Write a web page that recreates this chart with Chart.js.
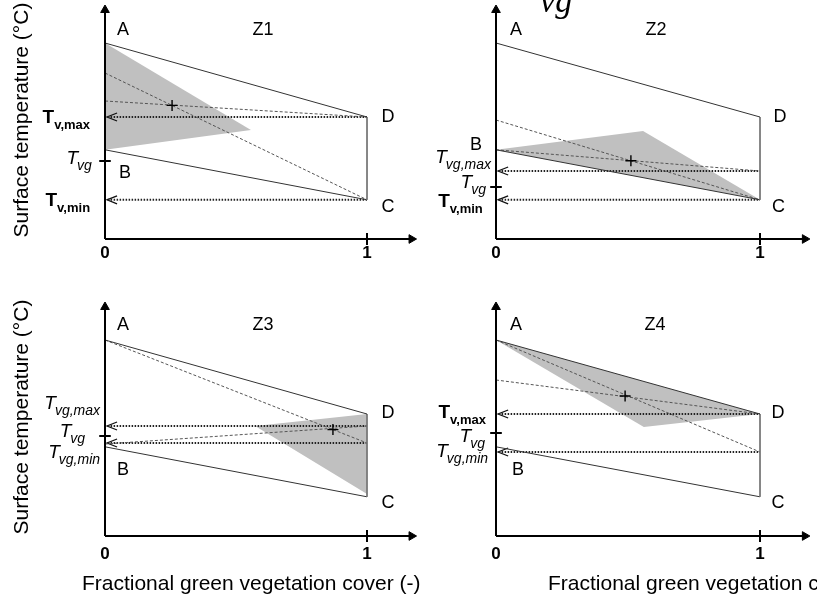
<!DOCTYPE html>
<html>
<head>
<meta charset="utf-8">
<script src="https://cdn.jsdelivr.net/npm/chart.js@4/dist/chart.umd.min.js"></script>
<style>
  html, body { margin: 0; padding: 0; background: #fff; }
  #chart { display: block; }
</style>
</head>
<body>
<canvas id="chart" width="817" height="596"></canvas>
<script>
// ---- data (temperature units, x = fractional cover 0..1) ----
const panelTitles = ['Z1', 'Z2', 'Z3', 'Z4'];
const xTickLabels = ['0', '1'];
const yTitle = 'Surface temperature (°C)';
const xTitle = 'Fractional green vegetation cover (-)';

// trapezoid corners A, D, C, B (same in every panel)
const trapezoidX = [0, 1, 1, 0];
const trapezoidY = [49, 30.5, 9.8, 22.3];

const shadeZ1 = [[0, 49], [0.557, 27.25], [0, 22.3]];
const shadeZ2 = [[0, 22.3], [0.557, 27], [1, 9.8]];
const shadeZ3 = [[0.573, 27.5], [1, 30.5], [1, 10.5]];
const shadeZ4 = [[0, 49], [1, 30.5], [0.56, 27.25]];

const dashedZ1 = [[[0, 41.5], [1, 9.8]], [[0, 34.5], [1, 30.5]]];
const dashedZ2 = [[[0, 29.75], [1, 9.8]], [[0, 22.3], [1, 17]]];
const dashedZ3 = [[[0, 49], [1, 23.25]], [[0, 23], [1, 27.5]]];
const dashedZ4 = [[[0, 49], [1, 21]], [[0, 39], [1, 30.5]]];

const crossPoints = [[0.256, 33.4], [0.511, 19.55], [0.87, 26.6], [0.489, 35]];
const dottedLevels = [[30.5, 9.8], [17, 9.8], [27.5, 23.25], [30.5, 21]];
const tvgTicks = [19.5, 13, 25, 25.75];

// left-hand temperature labels: [main, subscript, style, y]
const tempLabelsZ1 = [['T', 'v,max', 'b', 30.75], ['T', 'vg', 'i', 20.5], ['T', 'v,min', 'b', 10]];
const tempLabelsZ2 = [['T', 'vg,max', 'i', 20.75], ['T', 'vg', 'i', 14.5], ['T', 'v,min', 'b', 9.75]];
const tempLabelsZ3 = [['T', 'vg,max', 'i', 33.5], ['T', 'vg', 'i', 26.5], ['T', 'vg,min', 'i', 21.25]];
const tempLabelsZ4 = [['T', 'v,max', 'b', 31.25], ['T', 'vg', 'i', 25.25], ['T', 'vg,min', 'i', 21.5]];

// ---- layout ----
const AX = [
  { x: 'xL', y: 'yT' }, { x: 'xR', y: 'yT' },
  { x: 'xL', y: 'yB' }, { x: 'xR', y: 'yB' }
];
const W = 817, H = 596;
const colL = { x0: 105, unit: 262 }, colR = { x0: 496, unit: 264 };
const rowT = { y0: 239, unit: 4 }, rowB = { y0: 536, unit: 4 };

const FONT = 'Arial, "Liberation Sans", sans-serif';
const shades = [shadeZ1, shadeZ2, shadeZ3, shadeZ4];
const dashes = [dashedZ1, dashedZ2, dashedZ3, dashedZ4];
const tempLabels = [tempLabelsZ1, tempLabelsZ2, tempLabelsZ3, tempLabelsZ4];
const tempLabelRight = [
  [-0.057, -0.05, -0.057], [-0.019, -0.038, -0.05],
  [-0.019, -0.076, -0.019], [-0.038, -0.042, -0.03]
];
const letterPos = [
  { A: [0.069, 52.25], B: [0.076, 16.5], C: [1.08, 8], D: [1.08, 30.5], Z: [0.603, 52.25] },
  { A: [0.076, 52.25], B: [-0.053, 23.5], C: [1.07, 8], D: [1.076, 30.5], Z: [0.606, 52.25] },
  { A: [0.069, 52.75], B: [0.069, 16.5], C: [1.08, 8.25], D: [1.08, 30.75], Z: [0.603, 52.75] },
  { A: [0.076, 52.75], B: [0.083, 16.5], C: [1.068, 8.25], D: [1.068, 30.75], Z: [0.602, 52.75] }
];
const tickLabelY = [-3.6, -3.6, -4.5, -4.5];

const pts = arr => arr.map(([x, y]) => ({ x, y }));

function line(p, arr, opts) {
  return Object.assign({
    data: pts(arr), xAxisID: AX[p].x, yAxisID: AX[p].y,
    showLine: true, pointRadius: 0, fill: false,
    borderColor: '#444', borderWidth: 1, order: 5
  }, opts);
}

const datasets = [];
for (let p = 0; p < 4; p++) {
  const s = shades[p];
  datasets.push(line(p, s.concat([s[0]]), {
    fill: 'shape', backgroundColor: '#c0c0c0', borderWidth: 0, borderColor: 'rgba(0,0,0,0)', order: 20
  }));
  // trapezoid A-D-C-B
  const trap = trapezoidX.map((x, i) => [x, trapezoidY[i]]);
  datasets.push(line(p, trap.slice(0, 2), { borderColor: '#333' }));
  datasets.push(line(p, trap.slice(1, 3), { borderColor: '#777' }));
  datasets.push(line(p, trap.slice(2, 4), { borderColor: '#333' }));
  // dashed lines
  dashes[p].forEach(d => datasets.push(line(p, d, { borderColor: '#555', borderDash: [3, 2] })));
  // dotted arrows
  dottedLevels[p].forEach(v => {
    datasets.push(line(p, [[0.01, v], [1, v]], { borderColor: '#222', borderWidth: 2, borderDash: [1.5, 1.5] }));
    datasets.push(line(p, [[0.046, v + 1], [0.008, v], [0.046, v - 1]], { borderColor: '#111', borderWidth: 1.3 }));
  });
  // axes
  datasets.push(line(p, [[0, 0], [0, 57.5]], { borderColor: '#000', borderWidth: 2, order: 3 }));
  datasets.push(line(p, [[0, 0], [1.18, 0]], { borderColor: '#000', borderWidth: 2, order: 3 }));
  datasets.push(line(p, [[0, 57.25]], { showLine: false, pointRadius: 5, pointStyle: 'triangle',
    backgroundColor: '#000', borderColor: '#000', borderWidth: 1, order: 2 }));
  datasets.push(line(p, [[1.17, 0]], { showLine: false, pointRadius: 5, pointStyle: 'triangle', rotation: 90,
    backgroundColor: '#000', borderColor: '#000', borderWidth: 1, order: 2 }));
  // ticks
  datasets.push(line(p, [[1, -1.5], [1, 1.5]], { borderColor: '#000', borderWidth: 2, order: 3 }));
  datasets.push(line(p, [[-0.022, tvgTicks[p]], [0.022, tvgTicks[p]]], { borderColor: '#000', borderWidth: 2, order: 3 }));
  // centre cross
  datasets.push(line(p, [crossPoints[p]], { showLine: false, pointRadius: 5.5, pointStyle: 'cross',
    borderColor: '#000', borderWidth: 1.4, order: 1 }));
}

const textPlugin = {
  id: 'texts',
  afterDraw(chart) {
    const ctx = chart.ctx;
    const px = (p, x) => chart.scales[AX[p].x].getPixelForValue(x);
    const py = (p, y) => chart.scales[AX[p].y].getPixelForValue(y);
    ctx.save();
    ctx.fillStyle = '#000';
    for (let p = 0; p < 4; p++) {
      const L = letterPos[p];
      ctx.font = '18px ' + FONT;
      ctx.textAlign = 'center';
      ctx.textBaseline = 'middle';
      ['A', 'B', 'C', 'D'].forEach(k => {
        ctx.textAlign = (p === 1 && k === 'B') ? 'right' : 'center';
        ctx.fillText(k, px(p, L[k][0]), py(p, L[k][1]));
      });
      ctx.textAlign = 'center';
      ctx.fillText(panelTitles[p], px(p, L.Z[0]), py(p, L.Z[1]));
      // tick labels
      ctx.font = 'bold 17px ' + FONT;
      xTickLabels.forEach((t, i) => ctx.fillText(t, px(p, i), py(p, tickLabelY[p])));
      // temperature labels with subscript
      tempLabels[p].forEach((l, i) => {
        const [main, sub, st, y] = l;
        const mf = (st === 'b' ? 'bold ' : 'italic ') + '19px ' + FONT;
        const sf = (st === 'b' ? 'bold 13px ' : 'italic 14px ') + FONT;
        ctx.font = mf; const mw = ctx.measureText(main).width;
        ctx.font = sf; const sw = ctx.measureText(sub).width;
        const right = px(p, tempLabelRight[p][i]);
        const base = py(p, y) + 7;
        ctx.textAlign = 'left';
        ctx.textBaseline = 'alphabetic';
        ctx.font = mf; ctx.fillText(main, right - sw - mw + (st === 'i' ? 1 : 0), base);
        ctx.font = sf; ctx.fillText(sub, right - sw, base + 6);
      });
    }
    // axis titles
    ctx.font = '21px ' + FONT;
    ctx.textAlign = 'center';
    ctx.textBaseline = 'middle';
    [0, 2].forEach(p => {
      ctx.save();
      ctx.translate(px(p, -0.317), py(p, 29.75));
      ctx.rotate(-Math.PI / 2);
      ctx.fillText(yTitle, 0, 0);
      ctx.restore();
    });
    ctx.textAlign = 'left';
    ctx.fillText(xTitle, px(2, -0.088), py(2, -12));
    ctx.fillText(xTitle, px(3, 0.197), py(3, -12));
    // clipped heading fragment at the top
    ctx.font = 'italic 34px "Liberation Serif", "Times New Roman", serif';
    ctx.textBaseline = 'alphabetic';
    ctx.fillText('vg', px(1, 0.167), py(1, 56.75));
    ctx.restore();
  }
};

const lin = (axis, min, max) => ({ type: 'linear', axis, display: false, min, max });

new Chart(document.getElementById('chart'), {
  type: 'scatter',
  data: { datasets },
  options: {
    responsive: false,
    animation: false,
    events: [],
    layout: { padding: 0, autoPadding: false },
    plugins: { legend: { display: false }, tooltip: { enabled: false }, title: { display: false } },
    scales: {
      xL: lin('x', -colL.x0 / colL.unit, (W - colL.x0) / colL.unit),
      xR: lin('x', -colR.x0 / colR.unit, (W - colR.x0) / colR.unit),
      yT: lin('y', -(H - rowT.y0) / rowT.unit, rowT.y0 / rowT.unit),
      yB: lin('y', -(H - rowB.y0) / rowB.unit, rowB.y0 / rowB.unit)
    }
  },
  plugins: [textPlugin]
});
</script>
</body>
</html>
